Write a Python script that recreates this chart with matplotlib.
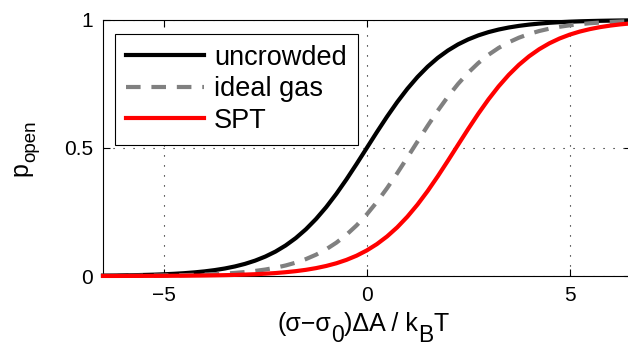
import matplotlib
matplotlib.use('Agg')
import matplotlib.pyplot as plt
from matplotlib.transforms import IdentityTransform

plt.rcParams['font.family'] = ['Liberation Sans', 'DejaVu Sans']

# values (step 0.25)
x = [-6.5, -6.25, -6.0, -5.75, -5.5, -5.25, -5.0, -4.75, -4.5, -4.25, -4.0, -3.75,
     -3.5, -3.25, -3.0, -2.75, -2.5, -2.25, -2.0, -1.75, -1.5, -1.25, -1.0, -0.75,
     -0.5, -0.25, 0.0, 0.25, 0.5, 0.75, 1.0, 1.25, 1.5, 1.75, 2.0, 2.25, 2.5, 2.75,
     3.0, 3.25, 3.5, 3.75, 4.0, 4.25, 4.5, 4.75, 5.0, 5.25, 5.5, 5.75, 6.0, 6.25, 6.5]
uncrowded = [0.0015, 0.0019, 0.0025, 0.0032, 0.0041, 0.0052, 0.0067, 0.0086, 0.0110,
             0.0141, 0.0180, 0.0230, 0.0293, 0.0373, 0.0474, 0.0601, 0.0759, 0.0953,
             0.1192, 0.1480, 0.1824, 0.2227, 0.2689, 0.3208, 0.3775, 0.4378, 0.5,
             0.5622, 0.6225, 0.6792, 0.7311, 0.7773, 0.8176, 0.8520, 0.8808, 0.9047,
             0.9241, 0.9399, 0.9526, 0.9627, 0.9707, 0.9770, 0.9820, 0.9859, 0.9890,
             0.9914, 0.9933, 0.9948, 0.9959, 0.9968, 0.9975, 0.9981, 0.9985]
ideal_gas = [0.0005, 0.0006, 0.0008, 0.0010, 0.0013, 0.0017, 0.0021, 0.0027, 0.0035,
             0.0045, 0.0058, 0.0074, 0.0095, 0.0121, 0.0155, 0.0198, 0.0253, 0.0323,
             0.0411, 0.0522, 0.0660, 0.0832, 0.1043, 0.1301, 0.1611, 0.1978, 0.2405,
             0.2891, 0.3430, 0.4013, 0.4626, 0.5250, 0.5866, 0.6457, 0.7006, 0.7503,
             0.7941, 0.8320, 0.8641, 0.8909, 0.9129, 0.9309, 0.9453, 0.9569, 0.9661,
             0.9734, 0.9792, 0.9837, 0.9873, 0.9900, 0.9922, 0.9939, 0.9953]
spt = [0.0002, 0.0002, 0.0003, 0.0004, 0.0005, 0.0006, 0.0007, 0.0010, 0.0012, 0.0016,
       0.0020, 0.0026, 0.0033, 0.0043, 0.0055, 0.0070, 0.0090, 0.0115, 0.0148, 0.0189,
       0.0241, 0.0308, 0.0392, 0.0497, 0.0630, 0.0794, 0.0998, 0.1246, 0.1545, 0.1900,
       0.2315, 0.2789, 0.3318, 0.3894, 0.4502, 0.5125, 0.5744, 0.6342, 0.6900, 0.7408,
       0.7858, 0.8249, 0.8581, 0.8859, 0.9089, 0.9276, 0.9427, 0.9548, 0.9644, 0.9721,
       0.9781, 0.9829, 0.9866]

# axis label pieces: (text, fontsize, baseline shift in px)
xlabel_parts = [('(σ−σ', 18, 0), ('0', 16.5, -11), (')ΔA / k', 18, 0),
                ('B', 16.5, -11), ('T', 18, 0)]
ylabel_parts = [('p', 18, 0), ('open', 13.5, 8)]


def piece_label(fig, parts, cx, cy, vertical=False):
    # MATLAB-style labels with big, low subscripts, placed in pixel coords
    r = fig.canvas.get_renderer()
    texts, sizes = [], []
    for s, fs, _ in parts:
        t = fig.text(0, 0, s, fontsize=fs, transform=IdentityTransform(),
                     rotation=90 if vertical else 0, rotation_mode='anchor',
                     ha='left', va='baseline')
        bb = t.get_window_extent(r)
        texts.append(t)
        sizes.append(bb.height if vertical else bb.width)
    pos = -sum(sizes) / 2
    for t, size, (_, _, off) in zip(texts, sizes, parts):
        if vertical:
            t.set_position((cx + off, cy + pos))
        else:
            t.set_position((cx + pos, cy + off))
        pos += size


fig = plt.figure(figsize=(6.28, 3.47), dpi=100)
ax = fig.add_axes([0.164, 0.2046, 0.840, 0.7378])

ax.plot(x, uncrowded, color='black', lw=3, label='uncrowded', clip_on=False, zorder=3)
ax.plot(x, ideal_gas, color='#808080', lw=3, dashes=(3.5, 2.6), label='ideal gas',
        clip_on=False, zorder=3)
ax.plot(x, spt, color='red', lw=3, label='SPT', clip_on=False, zorder=3)

ax.set_xlim(-6.5, 6.5)
ax.set_ylim(0, 1)
ax.set_xticks([-5, 0, 5])
ax.set_yticks([0, 0.5, 1])
ax.set_yticklabels(['0', '0.5', '1'])
ax.grid(True, color='black', lw=0.8, linestyle=(0, (1, 8)))
ax.tick_params(direction='in', length=5, labelsize=15, top=True, right=True, pad=7)
for s in ax.spines.values():
    s.set_linewidth(0.8)

leg = ax.legend(loc='upper left', bbox_to_anchor=(0.023, 0.945), fontsize=19.5,
                fancybox=False, edgecolor='black', framealpha=1, handlelength=2.9,
                borderaxespad=0, labelspacing=0.2, handletextpad=0.35,
                borderpad=0.4)
leg.get_frame().set_linewidth(0.8)

fig.canvas.draw()
piece_label(fig, xlabel_parts, 363, 16)
piece_label(fig, ylabel_parts, 27, 199, vertical=True)

fig.savefig('out.png', dpi=100)
